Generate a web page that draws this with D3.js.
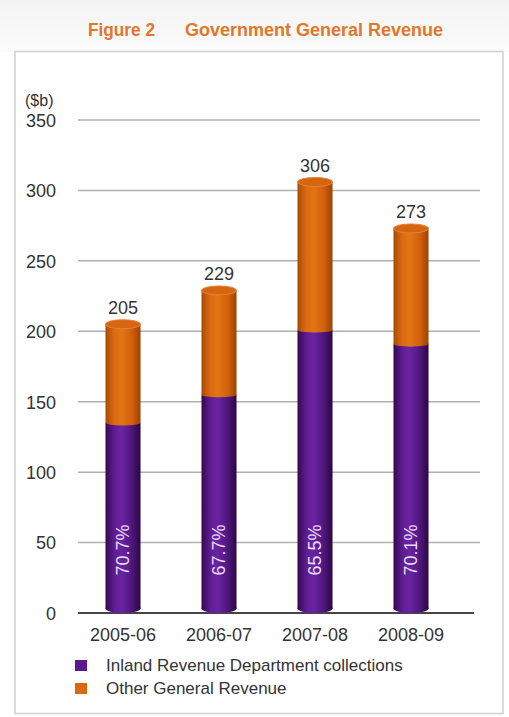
<!DOCTYPE html>
<html>
<head>
<meta charset="utf-8">
<script src="https://cdn.jsdelivr.net/npm/d3@7"></script>
<style>
  body { margin: 0; background: #fff; }
  svg { display: block; font-family: "Liberation Sans", Arial, sans-serif; }
</style>
</head>
<body>
<svg id="chart"></svg>
<script>
const years = ['2005-06', '2006-07', '2007-08', '2008-09'];
const ird = [135, 155, 201, 191];       // Inland Revenue Department collections ($b)
const other = [70, 74, 105, 82];        // Other General Revenue ($b)
const totals = [205, 229, 306, 273];
const shares = ['70.7%', '67.7%', '65.5%', '70.1%'];
const yTicks = [0, 50, 100, 150, 200, 250, 300, 350];
const seriesNames = ['Inland Revenue Department collections', 'Other General Revenue'];

const W = 509, H = 717;
const svg = d3.select('#chart').attr('width', W).attr('height', H);
const defs = svg.append('defs');

// header band + panel
const hg = defs.append('linearGradient').attr('id', 'hdr').attr('x1', 0).attr('x2', 0).attr('y1', 0).attr('y2', 1);
hg.append('stop').attr('offset', '0%').attr('stop-color', '#f4f4f4');
hg.append('stop').attr('offset', '100%').attr('stop-color', '#fbfbfb');
svg.append('rect').attr('width', W).attr('height', 52).attr('fill', 'url(#hdr)');
svg.append('rect').attr('x', 15).attr('y', 51.5).attr('width', 488).attr('height', 662)
  .attr('fill', '#fff').attr('stroke', '#d0d0d0').attr('stroke-width', 1.5);

// title, condensed look
svg.append('text').attr('x', 88).attr('y', 36).attr('fill', '#e2762a')
  .attr('font-size', 18).attr('font-weight', 'bold')
  .attr('textLength', 67).attr('lengthAdjust', 'spacingAndGlyphs').text('Figure 2');
svg.append('text').attr('x', 185).attr('y', 36).attr('fill', '#e2762a')
  .attr('font-size', 18).attr('font-weight', 'bold')
  .attr('textLength', 258).attr('lengthAdjust', 'spacingAndGlyphs').text('Government General Revenue');

// cylinder gradients
function grad(id, stops) {
  const g = defs.append('linearGradient').attr('id', id).attr('x1', 0).attr('x2', 1).attr('y1', 0).attr('y2', 0);
  stops.forEach(([o, c]) => g.append('stop').attr('offset', o).attr('stop-color', c));
}
grad('purple', [['0%', '#33094f'], ['25%', '#5e1c92'], ['45%', '#6a24a2'], ['75%', '#50167e'], ['100%', '#2a0742']]);
grad('orange', [['0%', '#a84a06'], ['25%', '#dc6a10'], ['45%', '#e47516'], ['75%', '#d2600c'], ['100%', '#9c4205']]);

const x = d3.scaleBand().domain(years).range([75, 459]).paddingInner(0.635).paddingOuter(0.3175);
const y = d3.scaleLinear().domain([0, 350]).range([613, 120]);
const bw = x.bandwidth(), ry = 4.5;

// grid
svg.append('g').selectAll('line').data(yTicks.filter(d => d > 0)).join('line')
  .attr('x1', 78).attr('x2', 480).attr('y1', d => y(d)).attr('y2', d => y(d))
  .attr('stroke', '#b0b0b0').attr('stroke-width', 1.5);
svg.append('line').attr('x1', 78).attr('x2', 474).attr('y1', y(0)).attr('y2', y(0))
  .attr('stroke', '#454545').attr('stroke-width', 2);

svg.append('g').selectAll('text').data(yTicks).join('text')
  .attr('x', 56).attr('y', d => y(d)).attr('dy', '0.38em').attr('text-anchor', 'end')
  .attr('font-size', 18).attr('fill', '#333').text(d => d);
svg.append('text').attr('x', 25).attr('y', 106).attr('font-size', 16).attr('fill', '#333').text('($b)');

// bars
const bars = svg.append('g').selectAll('g').data(years).join('g')
  .attr('transform', d => `translate(${x(d)},0)`);

bars.append('rect').attr('x', 0).attr('width', bw)
  .attr('y', (d, i) => y(ird[i])).attr('height', (d, i) => y(0) - ry - y(ird[i]))
  .attr('fill', 'url(#purple)');
bars.append('ellipse').attr('cx', bw / 2).attr('rx', bw / 2).attr('ry', ry)
  .attr('cy', y(0) - ry).attr('fill', 'url(#purple)');

bars.append('rect').attr('x', 0).attr('width', bw)
  .attr('y', (d, i) => y(ird[i] + other[i])).attr('height', (d, i) => y(ird[i]) - y(ird[i] + other[i]))
  .attr('fill', 'url(#orange)');
bars.append('ellipse').attr('cx', bw / 2).attr('rx', bw / 2).attr('ry', ry * 0.6)
  .attr('cy', (d, i) => y(ird[i])).attr('fill', 'url(#orange)');
bars.append('ellipse').attr('cx', bw / 2).attr('rx', bw / 2).attr('ry', ry)
  .attr('cy', (d, i) => y(ird[i] + other[i])).attr('fill', '#d66510')
  .attr('stroke', '#e9823a').attr('stroke-width', 1);

bars.append('text').attr('x', bw / 2).attr('y', (d, i) => y(ird[i] + other[i]) - 10)
  .attr('text-anchor', 'middle').attr('font-size', 18).attr('fill', '#333')
  .text((d, i) => totals[i]);

bars.append('text').attr('transform', `translate(${bw / 2 + 6},550) rotate(-90)`)
  .attr('text-anchor', 'middle').attr('font-size', 18).attr('fill', '#eadcf5')
  .text((d, i) => shares[i]);

// category labels
svg.append('g').selectAll('text').data(years).join('text')
  .attr('x', d => x(d) + bw / 2).attr('y', 641).attr('text-anchor', 'middle')
  .attr('font-size', 18).attr('fill', '#333').text(d => d);

// legend
const legend = svg.append('g').selectAll('g').data(seriesNames).join('g')
  .attr('transform', (d, i) => `translate(75,${660 + i * 23})`);
legend.append('rect').attr('width', 12).attr('height', 11)
  .attr('fill', (d, i) => (i === 0 ? '#5a1a8a' : '#d9690f'));
legend.append('text').attr('x', 31).attr('y', 11).attr('font-size', 17).attr('fill', '#333').text(d => d);
</script>
</body>
</html>
